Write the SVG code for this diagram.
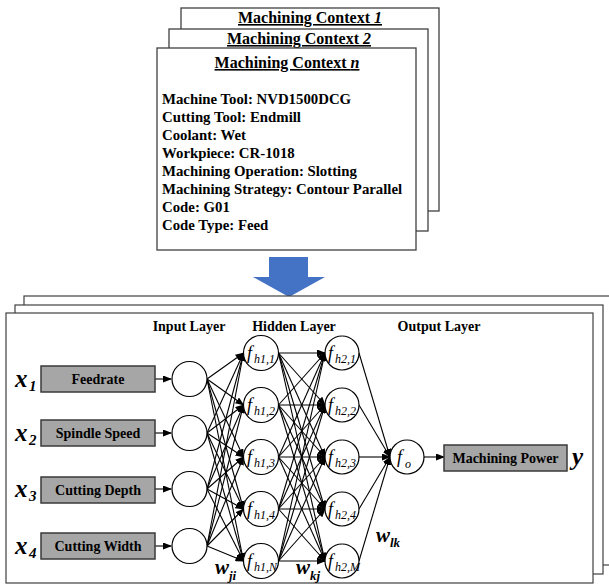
<svg xmlns="http://www.w3.org/2000/svg" width="609" height="584" viewBox="0 0 609 584">
<defs>
<marker id="ah" markerUnits="userSpaceOnUse" markerWidth="9" markerHeight="7" refX="8" refY="3.5" orient="auto">
<path d="M0,0 L9,3.5 L0,7 z" fill="#000"/>
</marker>
<style>
text{font-family:"Liberation Serif","Times New Roman",serif;fill:#000}
.card{fill:#fff;stroke:#404040;stroke-width:1.3}
.panel{fill:#fff;stroke:#404040;stroke-width:1.2}
.box{fill:#a6a6a6;stroke:#3a3a3a;stroke-width:1.5}
.nd{fill:#fff;stroke:#000;stroke-width:1.2}
.c{stroke:#000;stroke-width:1.1;fill:none;marker-end:url(#ah)}
.t{font-size:14.8px;font-weight:bold}
.ttl{font-size:16px;font-weight:bold;text-decoration:underline;text-anchor:middle}
.lay{font-size:14px;font-weight:bold;text-anchor:middle}
.bl{font-size:14px;font-weight:bold;text-anchor:middle}
.f{font-size:18px;font-style:italic}
.s{font-size:12px;font-style:italic}
.xv{font-size:25px;font-style:italic;font-weight:bold}
.xs{font-size:15px;font-style:italic;font-weight:bold}
.w{font-size:21px;font-style:italic;font-weight:bold}
.ws{font-size:13px;font-style:italic;font-weight:bold}
</style>
</defs>
<rect width="609" height="584" fill="#fff"/>

<g id="contexts">
<rect class="card" x="181" y="8" width="258" height="203"/>
<text class="ttl" x="310" y="23">Machining Context <tspan font-style="italic">1</tspan></text>
<rect class="card" x="169" y="29" width="259" height="202"/>
<text class="ttl" x="299" y="44">Machining Context <tspan font-style="italic">2</tspan></text>
<rect class="card" x="157" y="48" width="259" height="202"/>
<text class="ttl" x="287" y="68">Machining Context <tspan font-style="italic">n</tspan></text>
<text class="t" x="162" y="104">Machine Tool: NVD1500DCG</text>
<text class="t" x="162" y="122">Cutting Tool: Endmill</text>
<text class="t" x="162" y="140">Coolant: Wet</text>
<text class="t" x="162" y="158">Workpiece: CR-1018</text>
<text class="t" x="162" y="176">Machining Operation: Slotting</text>
<text class="t" x="162" y="194">Machining Strategy: Contour Parallel</text>
<text class="t" x="162" y="212">Code: G01</text>
<text class="t" x="162" y="230">Code Type: Feed</text>
</g>

<g id="big-arrow">
<polygon points="269,257 308,257 308,277 325,277 289,297 253,277 269,277" fill="#4472c4"/>
</g>

<g id="panels">
<rect class="panel" x="24" y="296" width="600" height="269"/>
<rect class="panel" x="15" y="305" width="588" height="269"/>
<rect class="panel" x="6" y="313" width="587" height="270"/>
</g>

<g id="layer-labels">
<text class="lay" x="189" y="331">Input Layer</text>
<text class="lay" x="294" y="331">Hidden Layer</text>
<text class="lay" x="439" y="331">Output Layer</text>
</g>

<g id="connectors">
<line class="c" x1="155" y1="379" x2="171" y2="379"/>
<line class="c" x1="155" y1="433" x2="171" y2="433"/>
<line class="c" x1="155" y1="489" x2="171" y2="489"/>
<line class="c" x1="155" y1="546" x2="171" y2="546"/>

<line class="c" x1="207" y1="379" x2="243.5" y2="353"/>
<line class="c" x1="207" y1="379" x2="243.5" y2="405"/>
<line class="c" x1="207" y1="379" x2="243.5" y2="457"/>
<line class="c" x1="207" y1="379" x2="243.5" y2="509"/>
<line class="c" x1="207" y1="379" x2="243.5" y2="561"/>
<line class="c" x1="207" y1="433" x2="243.5" y2="353"/>
<line class="c" x1="207" y1="433" x2="243.5" y2="405"/>
<line class="c" x1="207" y1="433" x2="243.5" y2="457"/>
<line class="c" x1="207" y1="433" x2="243.5" y2="509"/>
<line class="c" x1="207" y1="433" x2="243.5" y2="561"/>
<line class="c" x1="207" y1="489" x2="243.5" y2="353"/>
<line class="c" x1="207" y1="489" x2="243.5" y2="405"/>
<line class="c" x1="207" y1="489" x2="243.5" y2="457"/>
<line class="c" x1="207" y1="489" x2="243.5" y2="509"/>
<line class="c" x1="207" y1="489" x2="243.5" y2="561"/>
<line class="c" x1="207" y1="546" x2="243.5" y2="353"/>
<line class="c" x1="207" y1="546" x2="243.5" y2="405"/>
<line class="c" x1="207" y1="546" x2="243.5" y2="457"/>
<line class="c" x1="207" y1="546" x2="243.5" y2="509"/>
<line class="c" x1="207" y1="546" x2="243.5" y2="561"/>

<line class="c" x1="278.5" y1="353" x2="325" y2="353"/>
<line class="c" x1="278.5" y1="353" x2="325" y2="405"/>
<line class="c" x1="278.5" y1="353" x2="325" y2="457"/>
<line class="c" x1="278.5" y1="353" x2="325" y2="509"/>
<line class="c" x1="278.5" y1="353" x2="325" y2="561"/>
<line class="c" x1="278.5" y1="405" x2="325" y2="353"/>
<line class="c" x1="278.5" y1="405" x2="325" y2="405"/>
<line class="c" x1="278.5" y1="405" x2="325" y2="457"/>
<line class="c" x1="278.5" y1="405" x2="325" y2="509"/>
<line class="c" x1="278.5" y1="405" x2="325" y2="561"/>
<line class="c" x1="278.5" y1="457" x2="325" y2="353"/>
<line class="c" x1="278.5" y1="457" x2="325" y2="405"/>
<line class="c" x1="278.5" y1="457" x2="325" y2="457"/>
<line class="c" x1="278.5" y1="457" x2="325" y2="509"/>
<line class="c" x1="278.5" y1="457" x2="325" y2="561"/>
<line class="c" x1="278.5" y1="509" x2="325" y2="353"/>
<line class="c" x1="278.5" y1="509" x2="325" y2="405"/>
<line class="c" x1="278.5" y1="509" x2="325" y2="457"/>
<line class="c" x1="278.5" y1="509" x2="325" y2="509"/>
<line class="c" x1="278.5" y1="509" x2="325" y2="561"/>
<line class="c" x1="278.5" y1="561" x2="325" y2="353"/>
<line class="c" x1="278.5" y1="561" x2="325" y2="405"/>
<line class="c" x1="278.5" y1="561" x2="325" y2="457"/>
<line class="c" x1="278.5" y1="561" x2="325" y2="509"/>
<line class="c" x1="278.5" y1="561" x2="325" y2="561"/>

<line class="c" x1="359" y1="353" x2="390" y2="457"/>
<line class="c" x1="359" y1="405" x2="390" y2="457"/>
<line class="c" x1="359" y1="457" x2="390" y2="457"/>
<line class="c" x1="359" y1="509" x2="390" y2="457"/>
<line class="c" x1="359" y1="561" x2="390" y2="457"/>

<line class="c" x1="424" y1="457" x2="444" y2="457"/>
</g>

<g id="in-feedrate">
<text class="xv" x="15" y="387">x</text><text class="xs" x="29" y="391">1</text>
<rect class="box" x="41" y="366" width="114" height="26"/>
<text class="bl" x="98" y="384">Feedrate</text>
</g>
<g id="in-spindle">
<text class="xv" x="15" y="441">x</text><text class="xs" x="29" y="445">2</text>
<rect class="box" x="41" y="420" width="114" height="26"/>
<text class="bl" x="98" y="438">Spindle Speed</text>
</g>
<g id="in-depth">
<text class="xv" x="15" y="497">x</text><text class="xs" x="29" y="501">3</text>
<rect class="box" x="41" y="477" width="114" height="26"/>
<text class="bl" x="98" y="495">Cutting Depth</text>
</g>
<g id="in-width">
<text class="xv" x="15" y="554">x</text><text class="xs" x="29" y="558">4</text>
<rect class="box" x="41" y="533" width="114" height="26"/>
<text class="bl" x="98" y="551">Cutting Width</text>
</g>

<g id="i1"><circle class="nd" cx="189.5" cy="379" r="17.5"/></g>
<g id="i2"><circle class="nd" cx="189.5" cy="433" r="17.5"/></g>
<g id="i3"><circle class="nd" cx="189.5" cy="489" r="17.5"/></g>
<g id="i4"><circle class="nd" cx="189.5" cy="546" r="17.5"/></g>

<g id="h1-1"><circle class="nd" cx="261" cy="353" r="17.5"/><text class="f" x="247" y="359">f</text><text class="s" x="254" y="363">h1,1</text></g>
<g id="h1-2"><circle class="nd" cx="261" cy="405" r="17.5"/><text class="f" x="247" y="411">f</text><text class="s" x="254" y="415">h1,2</text></g>
<g id="h1-3"><circle class="nd" cx="261" cy="457" r="17.5"/><text class="f" x="247" y="463">f</text><text class="s" x="254" y="467">h1,3</text></g>
<g id="h1-4"><circle class="nd" cx="261" cy="509" r="17.5"/><text class="f" x="247" y="515">f</text><text class="s" x="254" y="519">h1,4</text></g>
<g id="h1-N"><circle class="nd" cx="261" cy="561" r="17.5"/><text class="f" x="247" y="567">f</text><text class="s" x="254" y="571">h1,N</text></g>

<g id="h2-1"><circle class="nd" cx="342" cy="353" r="17"/><text class="f" x="328" y="359">f</text><text class="s" x="335" y="363">h2,1</text></g>
<g id="h2-2"><circle class="nd" cx="342" cy="405" r="17"/><text class="f" x="328" y="411">f</text><text class="s" x="335" y="415">h2,2</text></g>
<g id="h2-3"><circle class="nd" cx="342" cy="457" r="17"/><text class="f" x="328" y="463">f</text><text class="s" x="335" y="467">h2,3</text></g>
<g id="h2-4"><circle class="nd" cx="342" cy="509" r="17"/><text class="f" x="328" y="515">f</text><text class="s" x="335" y="519">h2,4</text></g>
<g id="h2-M"><circle class="nd" cx="342" cy="561" r="17"/><text class="f" x="328" y="567">f</text><text class="s" x="335" y="571">h2,M</text></g>

<g id="fo"><circle class="nd" cx="407" cy="457" r="17"/><text class="f" x="397" y="463">f</text><text class="s" x="405" y="468">o</text></g>

<g id="out-power">
<rect class="box" x="444" y="445" width="123" height="26"/>
<text class="bl" x="505.5" y="463">Machining Power</text>
<text class="xv" x="572" y="465">y</text>
</g>

<g id="weights">
<text class="w" x="215" y="574">w</text><text class="ws" x="229" y="580">ji</text>
<text class="w" x="296" y="574">w</text><text class="ws" x="310" y="580">kj</text>
<text class="w" x="376" y="542">w</text><text class="ws" x="390" y="547">lk</text>
</g>
</svg>
